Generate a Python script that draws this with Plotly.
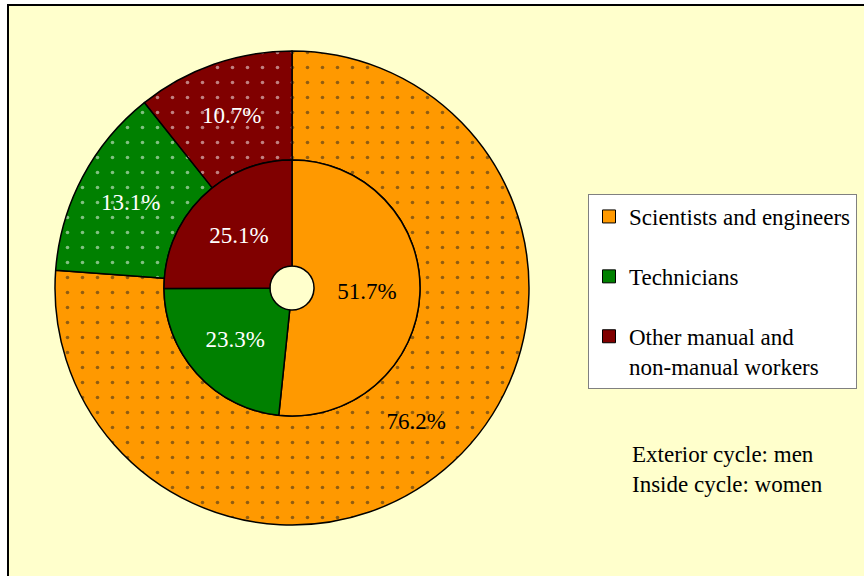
import plotly.graph_objects as go

# ---- data ----
categories = ["Scientists and engineers", "Technicians", "Other manual and non-manual workers"]
legend_labels = ["Scientists and engineers", "Technicians", "Other manual and<br>non-manual workers"]
men_pct = [76.2, 13.1, 10.7]      # exterior cycle
women_pct = [51.7, 23.3, 25.1]    # inside cycle
note_lines = ["Exterior cycle: men", "Inside cycle: women"]

# ---- styles ----
colors = ["#FF9900", "#008000", "#800000"]
dot_colors = ["#222222", "#FFFFFF", "#FFFFFF"]
text_colors = ["#000000", "#FFFFFF", "#FFFFFF"]
FONT = "Liberation Serif"
W, H = 864, 576

cx, cy = 292, 288
r_out, r_in, r_hole = 237, 128, 22


def dom(r):
    return dict(x=[(cx - r) / W, (cx + r) / W], y=[1 - (cy + r) / H, 1 - (cy - r) / H])


fig = go.Figure()

fig.add_trace(go.Pie(
    labels=categories, values=men_pct, sort=False, direction="clockwise", rotation=0,
    hole=r_in / r_out, domain=dom(r_out),
    marker=dict(colors=colors, line=dict(color="black", width=1.5),
                pattern=dict(shape=".", fillmode="overlay", fgcolor=dot_colors,
                             size=15, solidity=0.045)),
    texttemplate="%{value:.1f}%", textposition="inside", insidetextorientation="horizontal",
    textfont=dict(family=FONT, size=23, color=text_colors),
    showlegend=False, hoverinfo="label+value",
))

fig.add_trace(go.Pie(
    labels=categories, values=women_pct, sort=False, direction="clockwise", rotation=0,
    hole=r_hole / r_in, domain=dom(r_in),
    marker=dict(colors=colors, line=dict(color="black", width=1.5)),
    texttemplate="%{value:.1f}%", textposition="inside", insidetextorientation="horizontal",
    textfont=dict(family=FONT, size=23, color=text_colors),
    showlegend=False, hoverinfo="label+value",
))

# legend entries
for i, (lab, col) in enumerate(zip(legend_labels, colors)):
    fig.add_trace(go.Scatter(
        x=[None], y=[None], mode="markers", name=lab, legendgroup=f"g{i}",
        marker=dict(symbol="square", size=13, color=col, line=dict(color="black", width=1)),
    ))

fig.add_shape(type="rect", xref="paper", yref="paper",
              x0=8 / W, x1=1.02, y0=-0.02, y1=1 - 5 / H,
              fillcolor="#FFFFCC", line=dict(color="black", width=2), layer="below")

fig.add_annotation(xref="paper", yref="paper", x=630 / W, y=1 - 440 / H,
                   xanchor="left", yanchor="top", align="left", showarrow=False,
                   text="<br>".join(note_lines),
                   font=dict(family=FONT, size=23, color="black"))

fig.update_layout(
    width=W, height=H, margin=dict(l=0, r=0, t=0, b=0),
    paper_bgcolor="white", plot_bgcolor="rgba(0,0,0,0)",
    xaxis=dict(visible=False), yaxis=dict(visible=False),
    legend=dict(x=588 / W, y=1 - 194 / H, xanchor="left", yanchor="top",
                bgcolor="white", bordercolor="#808080", borderwidth=1,
                font=dict(family=FONT, size=23, color="black"),
                tracegroupgap=27, valign="top", itemwidth=30),
    font=dict(family=FONT),
)

fig.write_html("out.html", config={"displayModeBar": False},
               post_script="document.body.style.margin='0';")
